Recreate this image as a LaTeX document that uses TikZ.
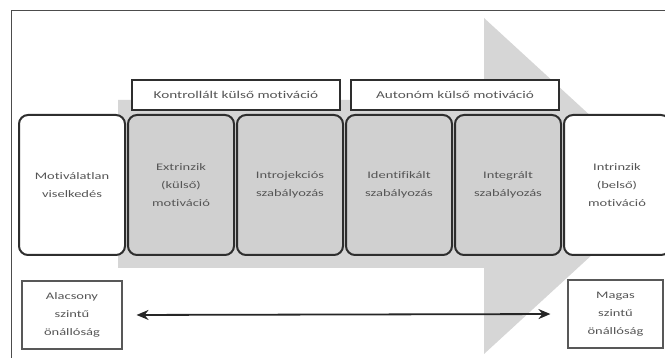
\documentclass[tikz,border=0pt]{standalone}
\usepackage{fontspec}
\setmainfont{Carlito}[FakeStretch=1.45,Ligatures=NoCommon]
\usetikzlibrary{arrows.meta}
\definecolor{arrowgray}{HTML}{D6D6D6}
\definecolor{boxgray}{HTML}{D0D0D0}
\definecolor{txt}{HTML}{555555}
\definecolor{edge}{HTML}{2E2E2E}
\tikzset{
  stagebox/.style={draw=edge, line width=2pt, rounded corners=9pt, minimum width=106pt, minimum height=140pt,
    align=center, text=txt, font=\fontsize{10}{18}\selectfont, inner sep=1pt, text width=102pt},
  graybox/.style={stagebox, fill=boxgray},
  whitebox/.style={stagebox, fill=white},
  labelbox/.style={draw=edge, line width=1.3pt, fill=white, minimum width=208pt, minimum height=30pt,
    text=txt, font=\fontsize{10.5}{13}\selectfont},
  endbox/.style={draw=edge!80, line width=1.1pt, fill=white, minimum height=68pt, align=center, text=txt,
    font=\fontsize{10}{18}\selectfont},
  scalearrow/.style={line width=1.8pt, draw=black!85, {Stealth[length=12pt,width=10pt]}-{Stealth[length=12pt,width=10pt]}}
}
\begin{document}
\begin{tikzpicture}[x=1pt,y=-1pt]
\useasboundingbox (0,0) rectangle (665,358);
\clip (0,0) rectangle (665,358);
\fill[white] (0,0) rectangle (665,358);
\draw[draw=black!70, line width=1pt] (11,11) rectangle (690,380);
% big gray arrow
\fill[arrowgray] (118,100) -- (484,100) -- (484,18) -- (667,186) -- (484,354) -- (484,268) -- (118,268) -- cycle;
% stage boxes
\node[whitebox] (amot) at (72,185) {Motiválatlan\\viselkedés};
\node[graybox] (aextr) at (181,185) {Extrinzik\\(külső)\\motiváció};
\node[graybox] (aintro) at (290,185) {Introjekciós\\szabályozás};
\node[graybox] (aident) at (399,185) {Identifikált\\szabályozás};
\node[graybox] (ainteg) at (508,185) {Integrált\\szabályozás};
\node[whitebox] (aintr) at (617,185) {Intrinzik\\(belső)\\motiváció};
% label boxes
\node[labelbox] (lkontr) at (236,95) {Kontrollált külső motiváció};
\node[labelbox] (lauton) at (455,95) {Autonóm külső motiváció};
% end boxes
\node[endbox, minimum width=100pt] (alow) at (72,315) {Alacsony\\szintű\\önállóság};
\node[endbox, minimum width=95pt] (ahigh) at (615.5,314) {Magas\\szintű\\önállóság};
\draw[scalearrow, shorten <=14pt, shorten >=17pt] (alow.east) -- (ahigh.west);
\end{tikzpicture}
\end{document}
